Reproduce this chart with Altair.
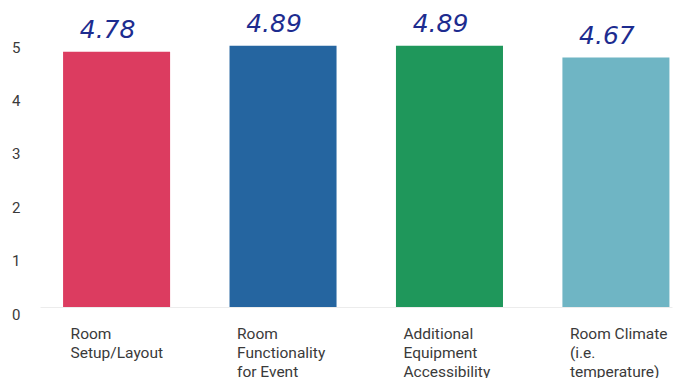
import altair as alt
import pandas as pd

categories = [
    "Room\nSetup/Layout",
    "Room\nFunctionality\nfor Event",
    "Additional\nEquipment\nAccessibility",
    "Room Climate\n(i.e.\ntemperature)",
]
values = [4.78, 4.89, 4.89, 4.67]
notes = ["4.78", "4.89", "4.89", "4.67"]
colors = ["#dc3c60", "#2565a0", "#1f975b", "#6fb5c4"]

df = pd.DataFrame({"cat": categories, "val": values, "note": notes, "color": colors})

x = alt.X(
    "cat:N",
    sort=categories,
    title=None,
    scale=alt.Scale(paddingInner=0.357, paddingOuter=0.077, align=0.9),
    axis=alt.Axis(
        labelAngle=0,
        labelAlign="left",
        labelBaseline="top",
        labelOffset=-46,
        labelPadding=19,
        labelExpr="split(datum.label, '\\n')",
        labelLineHeight=19,
        labelFontSize=15.5,
        labelFont="Roboto",
        labelColor="#3a3a3a",
        ticks=False,
        domain=True,
        domainColor="#ececec",
        grid=False,
    ),
)

y = alt.Y(
    "val:Q",
    title=None,
    scale=alt.Scale(domain=[0, 5], nice=False),
    axis=alt.Axis(
        values=[0, 1, 2, 3, 4, 5],
        labelFontSize=15,
        labelFont="Roboto",
        labelColor="#3a3a3a",
        labelPadding=20,
        labelOffset=7,
        ticks=False,
        domain=False,
        grid=False,
    ),
)

bars = alt.Chart(df).mark_bar().encode(
    x=x,
    y=y,
    color=alt.Color("color:N", scale=None),
)

labels = alt.Chart(df).mark_text(
    dy=-22,
    dx=-9,
    fontSize=25,
    font="DejaVu Sans",
    fontStyle="italic",
    color="#1d2c8f",
    baseline="middle",
).encode(x=alt.X("cat:N", sort=categories), y="val:Q", text="note:N")

chart = (
    (bars + labels)
    .properties(
        width=632,
        height=267,
        autosize=alt.AutoSizeParams(type="none"),
        padding={"left": 40, "top": 40, "right": 2, "bottom": 71},
        background="white",
    )
    .configure_view(stroke=None)
)

chart.save("out.html", embed_options={"renderer": "svg", "actions": False})
